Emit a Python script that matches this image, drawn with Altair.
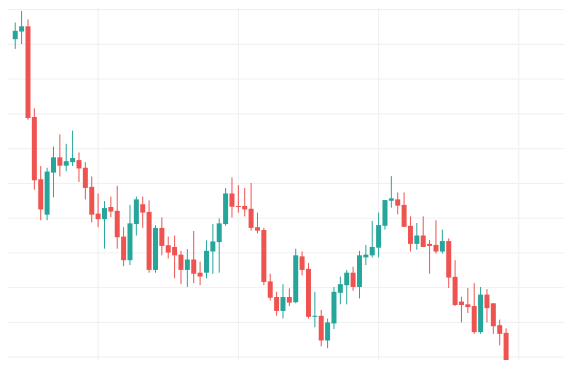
import altair as alt
import pandas as pd

# OHLC values (one candle per session)
opens = [101.5, 103.7, 105.2, 79.1, 61.2, 51.0, 63.1, 67.5, 65.1, 66.1,
         66.7, 64.5, 59.0, 51.3, 49.7, 53.2, 52.1, 44.7, 37.9, 48.3,
         54.0, 51.8, 35.1, 47.2, 42.2, 41.7, 39.5, 35.1, 38.1, 34.3,
         34.3, 40.4, 43.1, 48.3, 57.1, 53.5, 53.5, 52.7, 47.4, 46.6,
         31.8, 27.3, 23.3, 27.3, 25.8, 39.0, 35.4, 21.6, 21.9, 14.8,
         19.7, 28.5, 30.7, 34.3, 30.2, 38.7, 39.3, 41.5, 47.8, 55.0,
         55.4, 53.8, 47.8, 42.6, 45.0, 42.6, 42.3, 40.4, 43.4, 33.1,
         26.0, 25.2, 24.7, 17.2, 28.0, 25.5, 19.2, 17.0]
closes = [103.9, 105.2, 78.8, 60.9, 52.5, 63.4, 67.5, 65.1, 66.4, 67.3,
          64.3, 58.7, 51.0, 49.7, 52.9, 51.9, 44.5, 37.9, 48.5, 55.4,
          51.6, 35.1, 47.2, 42.0, 40.1, 39.3, 35.1, 38.1, 34.0, 33.2,
          40.6, 43.3, 48.5, 57.1, 53.3, 53.2, 52.5, 47.2, 46.4, 31.6,
          27.1, 23.3, 27.3, 25.7, 39.3, 35.1, 21.6, 21.9, 14.8, 20.0,
          28.8, 31.0, 34.3, 30.2, 39.3, 39.5, 41.7, 48.0, 55.2, 55.7,
          53.6, 47.5, 42.6, 45.0, 41.7, 42.0, 40.4, 43.4, 32.9, 25.0,
          25.0, 24.4, 17.2, 28.0, 24.1, 18.9, 16.7, 8.1]
highs = [106.3, 109.6, 107.2, 81.6, 65.0, 64.5, 70.6, 74.1, 71.4, 75.2,
         68.9, 66.1, 62.0, 57.1, 54.9, 56.2, 59.3, 47.4, 53.8, 56.2,
         56.2, 55.1, 48.0, 50.2, 44.7, 45.0, 40.6, 41.1, 46.3, 37.5,
         43.6, 48.3, 49.9, 58.7, 61.7, 59.5, 58.7, 60.1, 51.6, 47.2,
         34.0, 28.8, 31.0, 29.8, 41.2, 40.4, 37.1, 28.8, 23.6, 21.1,
         30.2, 33.2, 35.1, 36.0, 40.6, 42.3, 49.2, 51.6, 55.2, 62.1,
         57.4, 57.4, 50.5, 48.6, 50.5, 43.7, 49.4, 46.7, 44.2, 37.9,
         27.4, 29.9, 31.3, 30.2, 29.6, 25.5, 20.8, 18.3]
lows = [98.7, 100.1, 78.3, 58.2, 49.4, 49.4, 56.0, 62.0, 63.5, 65.0,
        60.4, 55.4, 48.8, 47.4, 41.2, 50.3, 41.2, 36.2, 36.5, 45.0,
        47.2, 34.3, 34.3, 39.3, 38.4, 32.7, 31.0, 30.2, 31.3, 30.7,
        32.7, 34.0, 34.3, 47.8, 50.2, 51.6, 50.5, 46.4, 45.6, 30.7,
        26.3, 21.9, 21.1, 24.7, 25.5, 33.5, 21.1, 18.6, 13.1, 12.6,
        18.1, 25.2, 25.2, 29.1, 26.9, 36.5, 38.7, 38.7, 46.7, 53.0,
        51.1, 47.5, 40.4, 40.9, 41.7, 34.0, 39.8, 39.8, 29.9, 24.7,
        20.0, 22.7, 16.7, 16.7, 20.0, 16.7, 13.4, 7.0]

time_ticks = [13, 35, 57, 79]
price_ticks = [10, 20, 30, 40, 50, 60, 70, 80, 90, 100, 110]

UP = "#26a69a"
DOWN = "#ef5350"
GRID = "#efefef"

df = pd.DataFrame({
    "i": list(range(len(opens))),
    "open": opens,
    "close": closes,
    "high": highs,
    "low": lows,
})
df["dir"] = ["up" if c >= o else "down" for o, c in zip(opens, closes)]

x_scale = alt.Scale(domain=[-0.35, 85.3], nice=False, zero=False)
y_scale = alt.Scale(domain=[9.18, 110.47], nice=False, zero=False)
color = alt.Color("dir:N", scale=alt.Scale(domain=["up", "down"], range=[UP, DOWN]), legend=None)

vgrid = alt.Chart(pd.DataFrame({"t": time_ticks})).mark_rule(
    color=GRID, strokeWidth=1
).encode(x=alt.X("t:Q", scale=x_scale, axis=None))

hgrid = alt.Chart(pd.DataFrame({"p": price_ticks})).mark_rule(
    color=GRID, strokeWidth=1
).encode(y=alt.Y("p:Q", scale=y_scale, axis=None))

base = alt.Chart(df)

wicks = base.mark_rule(strokeWidth=1, clip=True).encode(
    x=alt.X("i:Q", scale=x_scale, axis=None),
    y=alt.Y("low:Q", scale=y_scale, axis=None),
    y2="high:Q",
    color=color,
)

bodies = base.mark_bar(size=5, clip=True).encode(
    x=alt.X("i:Q", scale=x_scale, axis=None),
    y=alt.Y("open:Q", scale=y_scale, axis=None),
    y2="close:Q",
    color=color,
)

chart = (vgrid + hgrid + wicks + bodies).properties(
    width=556,
    height=352,
    padding=0,
    autosize=alt.AutoSizeParams(type="none"),
    background="white",
).configure_view(stroke=None)

chart.save("out.html", embed_options={"renderer": "svg", "actions": False})
